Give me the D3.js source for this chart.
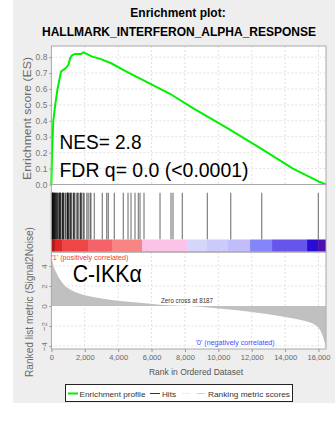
<!DOCTYPE html>
<html>
<head>
<meta charset="utf-8">
<script src="https://cdn.jsdelivr.net/npm/d3@7"></script>
<style>
  body { margin: 0; background: #fff; }
  svg { display: block; font-family: Arial, "Liberation Sans", sans-serif; }
</style>
</head>
<body>
<div id="chart"></div>
<script>
// running enrichment score (rank, ES)
var esRanks = [0, 40, 114, 216, 350, 455, 575, 714, 850, 1014, 1114, 1216, 1414, 1612, 1775, 1910, 2111, 2410, 3010, 3610, 4410, 7102, 8479, 10515, 12491, 14467, 16000, 16440];
var esValues = [0, 0.2, 0.40, 0.49, 0.59, 0.645, 0.71, 0.72, 0.73, 0.75, 0.79, 0.81, 0.82, 0.82, 0.82, 0.83, 0.82, 0.805, 0.786, 0.76, 0.714, 0.57, 0.48, 0.355, 0.23, 0.10, 0.02, 0];

// positions of gene set members in the ranked list
var hitRanks = [3, 12, 25, 38, 52, 66, 80, 97, 115, 130, 150, 170, 190, 212, 235, 258, 285, 310, 340, 372, 405,
    460, 480, 500, 520, 540, 575, 655, 675, 690, 715, 735, 820, 855, 940, 960, 975, 995, 1010, 1050, 1120, 1140, 1165, 1210,
    1315, 1340, 1360, 1410, 1520, 1565, 1610, 1720, 1745, 1770, 1815, 1915, 1965, 2120, 2205, 2320, 2370,
    2570, 3050, 3313, 3409, 3769, 4308, 4590, 4769, 5009, 5207, 5309, 5548, 6507, 7166, 7286, 7843,
    9341, 10743, 12600, 15992];

// ranked list metric (signal2noise)
var metricRanks = [0, 50, 114, 216, 317, 455, 617, 815, 1012, 1294, 1612, 2073, 2612, 3613, 4608, 5608, 6507, 7400, 8187, 10000, 12000, 13996, 15000, 15800, 16094, 16292, 16392, 16440];
var metricValues = [5.3, 4.6, 4.1, 3.6, 3.27, 2.8, 2.43, 2.0, 1.77, 1.5, 1.27, 1.05, 0.87, 0.6, 0.43, 0.27, 0.12, 0.05, 0, -0.25, -0.6, -1.1, -1.43, -1.9, -2.4, -3.2, -3.8, -4.2];

// heat bar blocks (rank boundaries)
var barBreaks = [0, 216, 635, 2193, 3631, 5429, 8125, 9323, 10581, 11900, 13218, 15315, 15974, 16450];
var barColors = ["#b51a1a", "#d92a2a", "#f04545", "#f56268", "#f98484", "#fbc3e8", "#d6d6fc", "#cbcbfb", "#c0bdfa", "#8585fb", "#6555ea", "#2a0dd4", "#4a10b0"];

var xTicks = [0, 2000, 4000, 6000, 8000, 10000, 12000, 14000, 16000];
var esTicks = [0, 0.1, 0.2, 0.3, 0.4, 0.5, 0.6, 0.7, 0.8];
var metricTicks = [-4, -2, 0, 2, 4];
var nGenes = 16450;
var zeroCross = 8187;

var width = 335, height = 421;
var left = 51.4, right = 326;
var top1 = 46, bot1 = 184.5, bot2 = 239.5, bot3 = 252, bot4 = 349;

var svg = d3.select("#chart").append("svg")
    .attr("width", width)
    .attr("height", height);

svg.append("rect")
    .attr("x", 13).attr("y", 0)
    .attr("width", width - 13).attr("height", 403)
    .attr("fill", "#eeeeee");

// titles
svg.append("text")
    .attr("x", 178).attr("y", 17)
    .attr("text-anchor", "middle")
    .style("font-weight", "bold").style("font-size", "12px")
    .text("Enrichment plot:");
svg.append("text")
    .attr("x", 179).attr("y", 36)
    .attr("text-anchor", "middle")
    .style("font-weight", "bold").style("font-size", "12px")
    .text("HALLMARK_INTERFERON_ALPHA_RESPONSE");

var x = d3.scaleLinear().domain([0, nGenes]).range([left, right]);
var yEs = d3.scaleLinear().domain([0, 0.87]).range([bot1, top1]);
var yM = d3.scaleLinear().domain([-4.3, 5.4]).range([bot4, bot3]);

// panel backgrounds
svg.append("rect")
    .attr("x", left).attr("y", top1)
    .attr("width", right - left).attr("height", bot4 - top1)
    .attr("fill", "#fff");

// grid lines
var grid = svg.append("g")
    .attr("stroke", "#d8d8d8")
    .attr("stroke-dasharray", "2,2")
    .attr("stroke-width", 0.8);

grid.selectAll(".vt")
    .data(xTicks.slice(1))
    .join("line")
        .attr("x1", d => x(d)).attr("x2", d => x(d))
        .attr("y1", top1).attr("y2", bot1);
grid.selectAll(".ht")
    .data(esTicks.slice(1))
    .join("line")
        .attr("class", "ht")
        .attr("x1", left).attr("x2", right)
        .attr("y1", d => yEs(d)).attr("y2", d => yEs(d));
grid.selectAll(".vb")
    .data(xTicks.slice(1))
    .join("line")
        .attr("class", "vb")
        .attr("x1", d => x(d)).attr("x2", d => x(d))
        .attr("y1", bot3).attr("y2", bot4);
grid.selectAll(".hb")
    .data(metricTicks.filter(d => d !== 0))
    .join("line")
        .attr("class", "hb")
        .attr("x1", left).attr("x2", right)
        .attr("y1", d => yM(d)).attr("y2", d => yM(d));

// ranked list metric
var metric = metricRanks.map((r, i) => [r, metricValues[i]]);
svg.append("path")
    .datum(metric)
    .attr("fill", "#c0c0c0")
    .attr("d", d3.area()
        .x(d => x(d[0]))
        .y0(yM(0))
        .y1(d => yM(d[1]))
        .curve(d3.curveMonotoneX));

// hits
svg.append("g")
    .selectAll("line")
    .data(hitRanks)
    .join("line")
        .attr("x1", d => x(d)).attr("x2", d => x(d))
        .attr("y1", 192.7).attr("y2", bot2)
        .attr("stroke", "#000")
        .attr("stroke-opacity", 0.5)
        .attr("stroke-width", 1.2);

// heat bar
svg.append("g")
    .selectAll("rect")
    .data(barColors)
    .join("rect")
        .attr("x", (d, i) => x(barBreaks[i]))
        .attr("width", (d, i) => x(barBreaks[i + 1]) - x(barBreaks[i]))
        .attr("y", bot2).attr("height", bot3 - bot2)
        .attr("fill", d => d);

// enrichment profile
var es = esRanks.map((r, i) => [r, esValues[i]]);
svg.append("path")
    .datum(es)
    .attr("fill", "none")
    .attr("stroke", "#00f000")
    .attr("stroke-width", 2)
    .attr("d", d3.line().x(d => x(d[0])).y(d => yEs(d[1])));

// frames
var frame = svg.append("g").attr("fill", "none").attr("stroke", "#a8a8a8").attr("stroke-width", 1);
frame.append("rect").attr("x", left).attr("y", top1).attr("width", right - left).attr("height", bot1 - top1);
frame.append("rect").attr("x", left).attr("y", bot1).attr("width", right - left).attr("height", bot3 - bot1);
frame.append("rect").attr("x", left).attr("y", bot3).attr("width", right - left).attr("height", bot4 - bot3);

// axes
var axEs = svg.append("g")
    .attr("transform", `translate(${left},0)`)
    .call(d3.axisLeft(yEs).tickValues(esTicks).tickSize(2).tickFormat(d3.format(".1f")));
axEs.select(".domain").remove();
axEs.selectAll("line").attr("stroke", "#999");
axEs.selectAll("text").attr("fill", "#777").style("font-size", "8.5px").attr("x", -4);

var axM = svg.append("g")
    .attr("transform", `translate(${left},0)`)
    .call(d3.axisLeft(yM).tickValues(metricTicks).tickSize(2).tickFormat(d3.format("d")));
axM.select(".domain").remove();
axM.selectAll("line").attr("stroke", "#999");
axM.selectAll("text")
    .attr("fill", "#777").style("font-size", "8px")
    .attr("text-anchor", "middle")
    .attr("x", null).attr("dy", null)
    .attr("transform", "translate(-4,0) rotate(-90)");

var axX = svg.append("g")
    .attr("transform", `translate(0,${bot4})`)
    .call(d3.axisBottom(x).tickValues(xTicks).tickSize(3).tickFormat(d3.format(",")));
axX.select(".domain").remove();
axX.selectAll("line").attr("stroke", "#999");
axX.selectAll("text").attr("fill", "#666").style("font-size", "7.5px").attr("y", 6);

// axis titles
svg.append("text")
    .attr("transform", "translate(31,118.5) rotate(-90)")
    .attr("text-anchor", "middle")
    .attr("fill", "#6a6a6a")
    .style("font-size", "11.5px")
    .attr("textLength", 123).attr("lengthAdjust", "spacingAndGlyphs")
    .text("Enrichment score (ES)");
svg.append("text")
    .attr("transform", "translate(33,302) rotate(-90)")
    .attr("text-anchor", "middle")
    .attr("fill", "#6a6a6a")
    .style("font-size", "10px")
    .attr("textLength", 150).attr("lengthAdjust", "spacingAndGlyphs")
    .text("Ranked list metric (Signal2Noise)");
svg.append("text")
    .attr("x", 196).attr("y", 375)
    .attr("text-anchor", "middle")
    .attr("fill", "#555")
    .style("font-size", "8.5px")
    .text("Rank in Ordered Dataset");

// annotations
svg.append("text")
    .attr("x", 59.5).attr("y", 149)
    .style("font-size", "20px")
    .attr("textLength", 82).attr("lengthAdjust", "spacingAndGlyphs")
    .text("NES= 2.8");
svg.append("text")
    .attr("x", 59.5).attr("y", 177.3)
    .style("font-size", "20px")
    .attr("textLength", 189).attr("lengthAdjust", "spacingAndGlyphs")
    .text("FDR q= 0.0 (<0.0001)");
svg.append("text")
    .attr("x", 72.7).attr("y", 281.7)
    .style("font-size", "23px")
    .attr("textLength", 69).attr("lengthAdjust", "spacingAndGlyphs")
    .text("C-IKKα");

svg.append("text")
    .attr("x", 51.5).attr("y", 259.5)
    .attr("fill", "#f03c3c")
    .style("font-size", "7.5px")
    .attr("textLength", 77).attr("lengthAdjust", "spacingAndGlyphs")
    .text("'1' (positively correlated)");
svg.append("text")
    .attr("x", x(zeroCross) - 27).attr("y", 302.7)
    .attr("fill", "#333")
    .style("font-size", "6.5px")
    .attr("textLength", 52).attr("lengthAdjust", "spacingAndGlyphs")
    .text("Zero cross at " + zeroCross);
svg.append("text")
    .attr("x", 195.7).attr("y", 344.5)
    .attr("fill", "#4a4aff")
    .style("font-size", "7.5px")
    .attr("textLength", 79).attr("lengthAdjust", "spacingAndGlyphs")
    .text("'0' (negatively correlated)");

// legend
var lg = svg.append("g");
lg.append("rect")
    .attr("x", 65.5).attr("y", 384.5)
    .attr("width", 227).attr("height", 17)
    .attr("fill", "#fff").attr("stroke", "#222").attr("stroke-width", 1);
var legendItems = [
    {x1: 68, x2: 78, color: "#00f000", w: 2, label: "Enrichment profile", tx: 79.5, tl: 66},
    {x1: 150, x2: 160, color: "#333", w: 1, label: "Hits", tx: 162, tl: 14},
    {x1: 182, x2: 190, color: "#ededed", w: 1, label: "", tx: 0, tl: 0},
    {x1: 197, x2: 205, color: "#cfcfcf", w: 1, label: "Ranking metric scores", tx: 208, tl: 82}
];
legendItems.forEach(function(d) {
    lg.append("line")
        .attr("x1", d.x1).attr("x2", d.x2)
        .attr("y1", 393.5).attr("y2", 393.5)
        .attr("stroke", d.color).attr("stroke-width", d.w);
    if (d.label) {
        lg.append("text")
            .attr("x", d.tx).attr("y", 396.5)
            .attr("fill", "#333")
            .style("font-size", "8px")
            .attr("textLength", d.tl).attr("lengthAdjust", "spacingAndGlyphs")
            .text(d.label);
    }
});
</script>
</body>
</html>
